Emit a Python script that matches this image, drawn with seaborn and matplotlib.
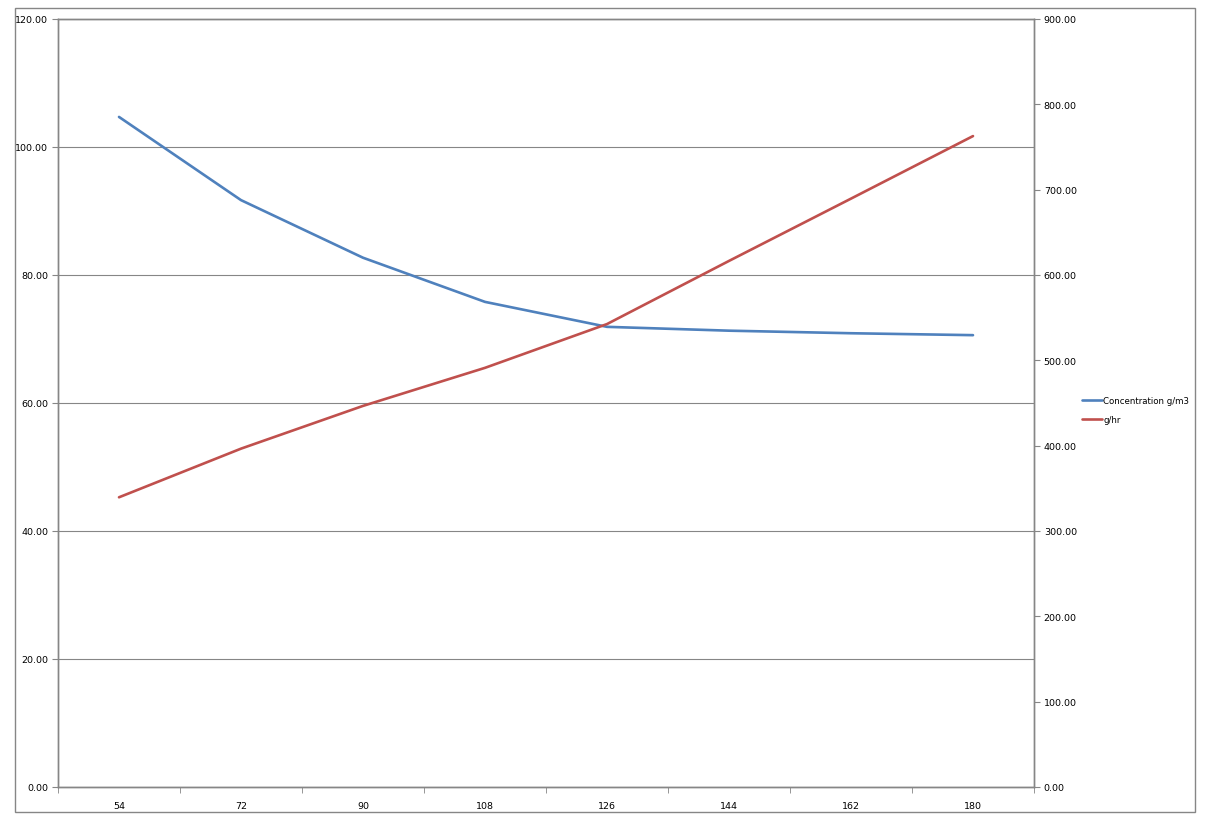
import matplotlib
matplotlib.use("Agg")
import matplotlib.pyplot as plt
import matplotlib.patches as mpatches
import pandas as pd
import seaborn as sns

# data
speeds = ["54", "72", "90", "108", "126", "144", "162", "180"]
concentration = [104.7, 91.7, 82.7, 75.8, 71.9, 71.3, 70.9, 70.6]
grams_per_hr = [339.5, 396.5, 446.6, 491.2, 542.5, 616.5, 689.5, 762.8]

left_ticks = [0, 20, 40, 60, 80, 100, 120]
right_ticks = [0, 100, 200, 300, 400, 500, 600, 700, 800, 900]

blue = "#4F81BD"
red = "#C0504D"
gray = "#868686"

sns.set_style("white")
plt.rcParams["font.family"] = ["DejaVu Sans"]

df = pd.DataFrame({"speed": speeds, "conc": concentration, "ghr": grams_per_hr})

fig = plt.figure(figsize=(12.06, 8.2), dpi=100)

# outer chart border
fig.patches.append(mpatches.Rectangle((15 / 1206, 1 - 813 / 820), 1180 / 1206, 804 / 820,
                                      transform=fig.transFigure, fill=False,
                                      edgecolor=gray, linewidth=1.0))

ax = fig.add_axes([58 / 1206, 1 - 788 / 820, 976 / 1206, 768 / 820])
ax2 = ax.twinx()

sns.lineplot(data=df, x="speed", y="conc", ax=ax, color=blue, linewidth=1.9,
             label="Concentration g/m3", legend=False)
sns.lineplot(data=df, x="speed", y="ghr", ax=ax2, color=red, linewidth=1.9,
             label="g/hr", legend=False)

ax.set_xlim(-0.5, len(speeds) - 0.5)
ax.set_ylim(0, 120)
ax2.set_ylim(0, 900)
ax.set_yticks(left_ticks)
ax.set_yticklabels([f"{v:.2f}" for v in left_ticks])
ax2.set_yticks(right_ticks)
ax2.set_yticklabels([f"{v:.2f}" for v in right_ticks])

ax.set_xticks(range(len(speeds)))
ax.set_xticklabels(speeds)
ax.set_xticks([i - 0.5 for i in range(len(speeds) + 1)], minor=True)
ax.tick_params(axis="x", which="major", bottom=True, length=0, pad=10, labelsize=6.8,
               labelcolor="black")
ax.tick_params(axis="x", which="minor", bottom=True, length=4, color=gray, direction="out")
ax.tick_params(axis="y", left=True, length=4, color=gray, direction="out", labelsize=6.8,
               pad=3, labelcolor="black")
ax2.tick_params(axis="y", right=True, length=4, color=gray, direction="out", labelsize=6.8,
                pad=3, labelcolor="black")

ax.yaxis.grid(True, color=gray, linewidth=0.8)
ax.set_axisbelow(True)
ax.set_xlabel("")
ax.set_ylabel("")
ax2.set_ylabel("")

for a in (ax, ax2):
    for side in ["left", "right", "bottom", "top"]:
        a.spines[side].set_color(gray)
        a.spines[side].set_linewidth(1.0)

h1, l1 = ax.get_legend_handles_labels()
h2, l2 = ax2.get_legend_handles_labels()
fig.legend(h1 + h2, l1 + l2, loc="center left", bbox_to_anchor=(1074 / 1206, 1 - 411 / 820),
           frameon=False, fontsize=6.2, handlelength=2.4, handletextpad=0.1, labelspacing=1.1,
           labelcolor="black")

fig.savefig("out.png", dpi=100)
